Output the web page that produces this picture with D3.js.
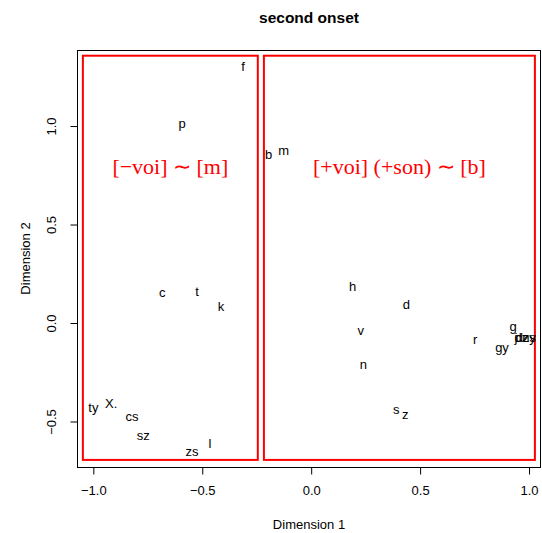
<!DOCTYPE html>
<html>
<head>
<meta charset="utf-8">
<script src="https://cdn.jsdelivr.net/npm/d3@7"></script>
<style>
  body { margin: 0; background: #fff; }
  svg { font-family: "Liberation Sans", Arial, sans-serif; }
</style>
</head>
<body>
<svg class="viz" width="542" height="533"></svg>
<script>
// phoneme labels and their MDS coordinates
var labels = ["f", "p", "b", "m", "c", "t", "k", "h", "d", "v", "n", "r", "g", "gy",
              "j", "dz", "dzs", "ny", "s", "z", "ty", "X.", "cs", "sz", "zs", "l"];
var dim1 = [-0.313, -0.593, -0.195, -0.126, -0.684, -0.524, -0.414, 0.190, 0.437, 0.227,
            0.240, 0.753, 0.927, 0.876, 0.940, 0.965, 0.985, 1.000, 0.391, 0.432,
            -1.000, -0.918, -0.822, -0.771, -0.547, -0.465];
var dim2 = [1.300, 1.015, 0.858, 0.878, 0.157, 0.162, 0.086, 0.188, 0.096, -0.036,
            -0.208, -0.081, -0.020, -0.122, -0.075, -0.072, -0.075, -0.073, -0.437, -0.462,
            -0.431, -0.406, -0.472, -0.569, -0.650, -0.609];

var xTicks = [-1.0, -0.5, 0.0, 0.5, 1.0];
var yTicks = [-0.5, 0.0, 0.5, 1.0];

// grouping boxes: [x1, x2, y1, y2] in data units
var boxes = [[-1.048, -0.245, -0.695, 1.357], [-0.217, 1.027, -0.695, 1.357]];
var boxText = ["[\u2212voi] \u223C [m]", "[+voi] (+son) \u223C [b]"];
var boxTextY = 0.795;

var svg = d3.select(".viz"),
    margin = {top: 50, right: 1, bottom: 66, left: 77},
    width = svg.attr("width") - margin.left - margin.right,
    height = svg.attr("height") - margin.top - margin.bottom;

var scaleX = d3.scaleLinear().domain([-1.075, 1.055]).range([margin.left, margin.left + width]);
var scaleY = d3.scaleLinear().domain([-0.731, 1.386]).range([margin.top + height, margin.top]);

var fmt = function (d) { return d3.format(".1f")(d).replace("-", "\u2212"); };

// title
svg.append("text")
  .attr("x", margin.left + width / 2)
  .attr("y", 23)
  .attr("text-anchor", "middle")
  .style("font-size", "15.5px")
  .style("font-weight", "bold")
  .text("second onset");

// plot frame
svg.append("rect")
  .attr("x", margin.left + 0.5)
  .attr("y", margin.top + 0.5)
  .attr("width", width - 1)
  .attr("height", height)
  .attr("fill", "none")
  .attr("stroke", "#000")
  .attr("stroke-width", 1);

// x axis
var xAxis = d3.axisBottom(scaleX).tickValues(xTicks).tickSize(7).tickPadding(11).tickFormat(fmt);
var gx = svg.append("g")
  .attr("transform", "translate(0," + (margin.top + height + 0.5) + ")")
  .call(xAxis);
gx.select(".domain").attr("d", "M" + scaleX(-1) + ",0H" + scaleX(1));
gx.selectAll("text").style("font-size", "13px").style("font-family", "Liberation Sans, Arial, sans-serif");

// y axis
var yAxis = d3.axisLeft(scaleY).tickValues(yTicks).tickSize(7).tickFormat(fmt);
var gy = svg.append("g")
  .attr("transform", "translate(" + (margin.left + 0.5) + ",0)")
  .call(yAxis);
gy.select(".domain").attr("d", "M0," + scaleY(-0.5) + "V" + scaleY(1));
gy.selectAll(".tick text")
  .attr("x", 0).attr("dy", null)
  .attr("transform", "translate(-22,0) rotate(-90)")
  .attr("text-anchor", "middle")
  .style("font-size", "13px")
  .style("font-family", "Liberation Sans, Arial, sans-serif");

// axis titles
svg.append("text")
  .attr("x", margin.left + width / 2)
  .attr("y", 529)
  .attr("text-anchor", "middle")
  .style("font-size", "13px")
  .text("Dimension 1");

svg.append("text")
  .attr("transform", "translate(30," + (margin.top + height / 2) + ") rotate(-90)")
  .attr("text-anchor", "middle")
  .style("font-size", "13px")
  .text("Dimension 2");

// red grouping rectangles
svg.selectAll("rect.group")
  .data(boxes)
  .enter()
  .append("rect")
  .attr("class", "group")
  .attr("x", function (d) { return scaleX(d[0]); })
  .attr("y", function (d) { return scaleY(d[3]); })
  .attr("width", function (d) { return scaleX(d[1]) - scaleX(d[0]); })
  .attr("height", function (d) { return scaleY(d[2]) - scaleY(d[3]); })
  .attr("fill", "none")
  .attr("stroke", "#ff0000")
  .attr("stroke-width", 2);

svg.selectAll("text.grouplab")
  .data(boxes)
  .enter()
  .append("text")
  .attr("class", "grouplab")
  .attr("x", function (d) { return (scaleX(d[0]) + scaleX(d[1])) / 2; })
  .attr("y", scaleY(boxTextY))
  .attr("dy", "0.35em")
  .attr("text-anchor", "middle")
  .style("font-family", "'Liberation Serif', 'Times New Roman', serif")
  .style("font-size", "22px")
  .attr("fill", "#ff0000")
  .text(function (d, i) { return boxText[i]; });

// phoneme labels
svg.selectAll("text.pt")
  .data(labels)
  .enter()
  .append("text")
  .attr("class", "pt")
  .attr("x", function (d, i) { return scaleX(dim1[i]); })
  .attr("y", function (d, i) { return scaleY(dim2[i]); })
  .attr("dy", "0.35em")
  .attr("text-anchor", "middle")
  .style("font-size", "13px")
  .text(function (d) { return d; });
</script>
</body>
</html>
